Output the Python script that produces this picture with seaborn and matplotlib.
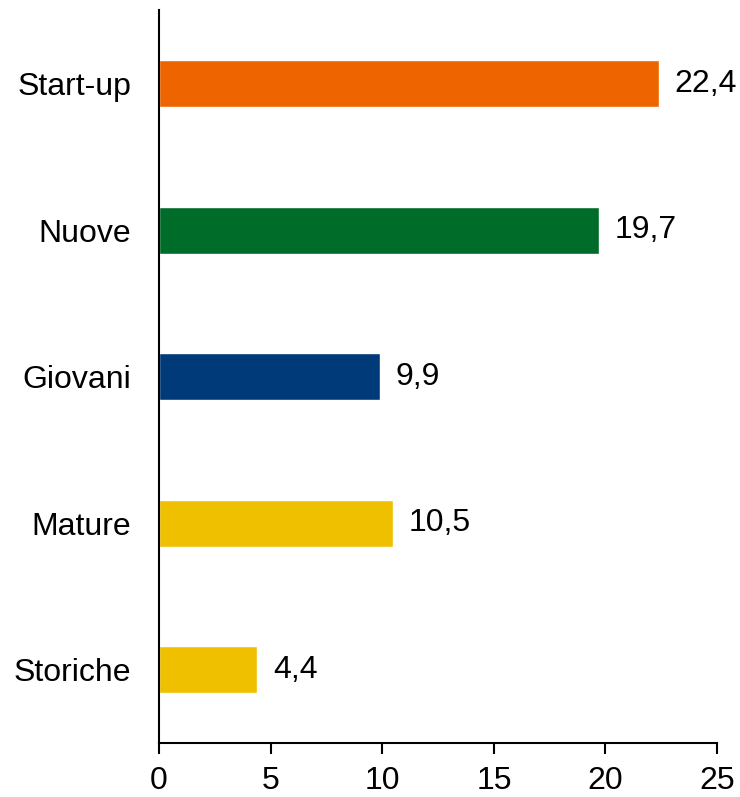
import matplotlib
matplotlib.use("Agg")
import matplotlib.pyplot as plt
import seaborn as sns
import pandas as pd

categories = ["Start-up", "Nuove", "Giovani", "Mature", "Storiche"]
values = [22.4, 19.7, 9.9, 10.5, 4.4]
bar_colors = ["#EE6500", "#006C29", "#003A78", "#EEC000", "#EEC000"]
x_ticks = [0, 5, 10, 15, 20, 25]

sns.set_style("ticks")
plt.rcParams["font.family"] = ["Liberation Sans", "DejaVu Sans"]

df = pd.DataFrame({"categoria": categories, "valore": values})

fig = plt.figure(figsize=(7.4, 7.97), dpi=100)
ax = fig.add_axes([0.215, 0.068, 0.754, 0.919])

sns.barplot(
    data=df,
    x="valore",
    y="categoria",
    hue="categoria",
    palette=bar_colors,
    width=0.32,
    legend=False,
    saturation=1,
    ax=ax
)

for i, v in enumerate(values):
    ax.text(v + 0.7, i, f"{v:.1f}".replace(".", ","),
            va="center", ha="left", fontsize=23, color="black")

ax.set_xlim(0, 25)
ax.set_ylim(4.5, -0.5)
ax.set_xticks(x_ticks)
ax.set_xlabel("")
ax.set_ylabel("")

ax.tick_params(axis="x", labelsize=23, length=8, width=1.5, direction="out",
               color="black", labelcolor="black", pad=9)
ax.tick_params(axis="y", labelsize=23, length=0, pad=20, labelcolor="black")

sns.despine(ax=ax)
for s in ["left", "bottom"]:
    ax.spines[s].set_linewidth(1.5)
    ax.spines[s].set_color("black")

fig.savefig("out.png", dpi=100)
